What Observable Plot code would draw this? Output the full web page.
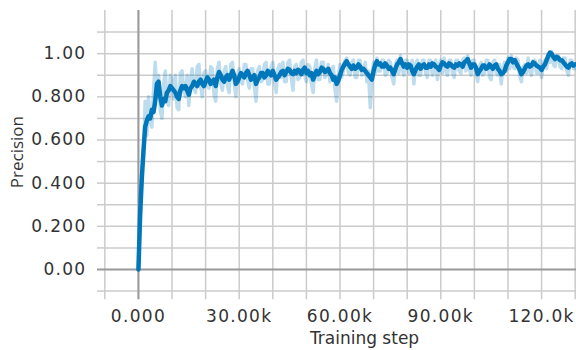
<!DOCTYPE html>
<html>
<head>
<meta charset="utf-8">
<script src="https://cdn.jsdelivr.net/npm/d3@7"></script>
<script src="https://cdn.jsdelivr.net/npm/@observablehq/plot@0.6"></script>
<style>
  html, body { margin: 0; padding: 0; background: #fff; }
  g[aria-label="y-axis tick label"] text,
  g[aria-label="x-axis tick label"] text { letter-spacing: 1.3px; }
</style>
</head>
<body>
<div id="chart"></div>
<script>
// Training steps (x): one logged point every 500 steps, 0 … 130k
const steps = d3.range(0, 130500, 500);

// Smoothed precision (dark line)
const smoothed = [
  0.00, 0.25, 0.42, 0.55, 0.66, 0.69, 0.71, 0.70, 0.74, 0.73,
  0.78, 0.86, 0.87, 0.80, 0.76, 0.79, 0.78, 0.82, 0.83, 0.85,
  0.84, 0.83, 0.82, 0.80, 0.79, 0.83, 0.85, 0.84, 0.85, 0.83,
  0.81, 0.84, 0.85, 0.87, 0.86, 0.85, 0.87, 0.88, 0.86, 0.85,
  0.87, 0.89, 0.88, 0.86, 0.87, 0.88, 0.85, 0.89, 0.915, 0.90,
  0.88, 0.87, 0.89, 0.90, 0.88, 0.90, 0.92, 0.90, 0.86, 0.87,
  0.89, 0.91, 0.90, 0.89, 0.91, 0.92, 0.90, 0.88, 0.89, 0.90,
  0.86, 0.88, 0.89, 0.91, 0.91, 0.89, 0.90, 0.92, 0.91, 0.90,
  0.92, 0.90, 0.88, 0.89, 0.90, 0.915, 0.92, 0.90, 0.915, 0.93,
  0.925, 0.91, 0.905, 0.92, 0.91, 0.925, 0.92, 0.905, 0.925, 0.935,
  0.91, 0.92, 0.90, 0.91, 0.88, 0.90, 0.92, 0.905, 0.915, 0.935,
  0.93, 0.915, 0.92, 0.93, 0.91, 0.90, 0.88, 0.89, 0.86, 0.875,
  0.90, 0.925, 0.94, 0.955, 0.965, 0.95, 0.94, 0.93, 0.945, 0.93,
  0.935, 0.95, 0.94, 0.925, 0.93, 0.92, 0.91, 0.90, 0.89, 0.88,
  0.92, 0.95, 0.965, 0.95, 0.955, 0.94, 0.94, 0.955, 0.945, 0.93,
  0.935, 0.92, 0.905, 0.93, 0.95, 0.96, 0.975, 0.955, 0.94, 0.95,
  0.935, 0.95, 0.945, 0.92, 0.905, 0.925, 0.94, 0.95, 0.93, 0.945,
  0.95, 0.935, 0.935, 0.95, 0.94, 0.955, 0.95, 0.94, 0.935, 0.925,
  0.945, 0.96, 0.955, 0.945, 0.94, 0.955, 0.95, 0.94, 0.935, 0.95,
  0.945, 0.955, 0.95, 0.94, 0.96, 0.965, 0.975, 0.955, 0.935, 0.95,
  0.95, 0.935, 0.905, 0.92, 0.93, 0.945, 0.945, 0.93, 0.935, 0.95,
  0.94, 0.93, 0.945, 0.95, 0.93, 0.92, 0.905, 0.91, 0.92, 0.945,
  0.96, 0.975, 0.975, 0.96, 0.97, 0.955, 0.94, 0.925, 0.905, 0.915,
  0.93, 0.945, 0.95, 0.94, 0.945, 0.96, 0.955, 0.945, 0.94, 0.935,
  0.925, 0.94, 0.95, 0.97, 0.99, 1.005, 1.00, 0.985, 0.975, 0.985,
  0.98, 0.97, 0.97, 0.96, 0.95, 0.94, 0.935, 0.95, 0.955, 0.945,
  0.95
];

// Raw precision (light band)
const raw = [
  0.00, 0.22, 0.45, 0.52, 0.78, 0.62, 0.80, 0.68, 0.66, 0.83,
  0.96, 0.80, 0.90, 0.74, 0.70, 0.86, 0.92, 0.78, 0.76, 0.90,
  0.88, 0.79, 0.90, 0.75, 0.74, 0.91, 0.92, 0.83, 0.80, 0.90,
  0.76, 0.88, 0.93, 0.84, 0.82, 0.94, 0.95, 0.85, 0.80, 0.91,
  0.92, 0.85, 0.84, 0.94, 0.93, 0.81, 0.78, 0.93, 0.96, 0.86,
  0.83, 0.92, 0.94, 0.85, 0.82, 0.95, 0.96, 0.87, 0.80, 0.90,
  0.93, 0.87, 0.86, 0.95, 0.95, 0.88, 0.84, 0.93, 0.93, 0.85,
  0.78, 0.92, 0.94, 0.87, 0.88, 0.95, 0.96, 0.86, 0.86, 0.94,
  0.96, 0.88, 0.82, 0.93, 0.95, 0.89, 0.96, 0.87, 0.87, 0.96,
  0.97, 0.89, 0.83, 0.94, 0.95, 0.88, 0.89, 0.96, 0.97, 0.90,
  0.87, 0.95, 0.94, 0.86, 0.82, 0.93, 0.97, 0.88, 0.88, 0.96,
  0.96, 0.89, 0.90, 0.95, 0.87, 0.93, 0.94, 0.84, 0.78, 0.90,
  0.95, 0.89, 0.92, 0.97, 0.98, 0.91, 0.90, 0.96, 0.97, 0.89,
  0.89, 0.97, 0.97, 0.90, 0.91, 0.96, 0.87, 0.92, 0.75, 0.90,
  0.96, 0.91, 0.98, 0.92, 0.92, 0.97, 0.97, 0.90, 0.91, 0.97,
  0.96, 0.89, 0.86, 0.95, 0.97, 0.91, 0.99, 0.93, 0.90, 0.97,
  0.97, 0.91, 0.91, 0.97, 0.86, 0.95, 0.97, 0.90, 0.90, 0.97,
  0.97, 0.91, 0.89, 0.97, 0.97, 0.90, 0.92, 0.97, 0.88, 0.95,
  0.97, 0.91, 0.98, 0.92, 0.90, 0.97, 0.97, 0.91, 0.89, 0.97,
  0.97, 0.92, 0.91, 0.97, 0.98, 0.92, 0.99, 0.93, 0.90, 0.97,
  0.97, 0.91, 0.87, 0.94, 0.96, 0.90, 0.91, 0.97, 0.97, 0.89,
  0.88, 0.96, 0.97, 0.91, 0.90, 0.95, 0.86, 0.93, 0.96, 0.92,
  0.98, 0.93, 0.99, 0.94, 0.93, 0.98, 0.97, 0.90, 0.87, 0.94,
  0.95, 0.91, 0.98, 0.92, 0.90, 0.97, 0.97, 0.91, 0.91, 0.97,
  0.89, 0.95, 0.97, 0.93, 1.00, 0.96, 1.01, 0.95, 0.94, 0.99,
  0.99, 0.94, 0.93, 0.98, 0.98, 0.92, 0.90, 0.97, 0.97, 0.93,
  0.93
];

// Axis ticks and labels
const xGrid = [-10000, 0, 10000, 20000, 30000, 40000, 50000, 60000, 70000, 80000, 90000, 100000, 110000, 120000, 130000];
const xTicks = [0, 30000, 60000, 90000, 120000];
const xTickLabels = ["0.000", "30.00k", "60.00k", "90.00k", "120.0k"];
const yGrid = [-0.1, 0.1, 0.2, 0.3, 0.4, 0.5, 0.6, 0.7, 0.8, 0.9, 1.0, 1.1];
const yTicks = [0, 0.2, 0.4, 0.6, 0.8, 1.0];
const yTickLabels = ["0.00", "0.200", "0.400", "0.600", "0.800", "1.00"];
const xTitle = "Training step";
const yTitle = "Precision";

const n = Math.min(steps.length, smoothed.length, raw.length);
const data = d3.range(n).map(i => ({step: steps[i], smoothed: smoothed[i], raw: raw[i]}));
const xLabelMap = new Map(xTicks.map((t, i) => [t, xTickLabels[i]]));
const yLabelMap = new Map(yTicks.map((t, i) => [t, yTickLabels[i]]));

const gridColor = "#cbcbcb";
const zeroColor = "#9a9a9a";
const textColor = "#333333";
const lineColor = "#0077bb";

const chart = Plot.plot({
  width: 576,
  height: 350,
  marginLeft: 104,
  marginRight: 0,
  marginTop: 10,
  marginBottom: 50.8,
  style: {fontFamily: "DejaVu Sans", fontSize: "17px", color: textColor, background: "#fff"},
  x: {domain: [-10100, 130400]},
  y: {domain: [-0.14, 1.2]},
  marks: [
    Plot.gridX(xGrid, {stroke: gridColor, strokeOpacity: 1, strokeWidth: 1.5}),
    Plot.gridY(yGrid, {stroke: gridColor, strokeOpacity: 1, strokeWidth: 1.5}),
    Plot.axisY(yGrid, {tickSize: 7, tickFormat: () => "", stroke: gridColor, strokeWidth: 1.5, label: null}),
    Plot.ruleX([0], {stroke: zeroColor, strokeWidth: 2}),
    Plot.ruleY([0], {stroke: zeroColor, strokeWidth: 2}),
    Plot.axisY([0], {tickSize: 7, tickFormat: () => "", stroke: zeroColor, strokeWidth: 2, label: null}),
    Plot.axisY(yTicks, {tickSize: 0, tickPadding: 18, tickFormat: d => yLabelMap.get(d), fill: textColor, fontSize: 17, label: null}),
    Plot.axisX(xTicks, {tickSize: 0, tickPadding: 10, tickFormat: d => xLabelMap.get(d), fill: textColor, fontSize: 17, label: null}),
    Plot.line(data, {x: "step", y: "raw", stroke: lineColor, strokeOpacity: 0.26, strokeWidth: 3.5, curve: "linear"}),
    Plot.line(data, {x: "step", y: "smoothed", stroke: lineColor, strokeWidth: 4.5, curve: "linear", strokeLinejoin: "round"}),
    Plot.text([xTitle], {frameAnchor: "bottom", dx: 24, dy: 39, lineAnchor: "middle", textAnchor: "middle", fill: textColor, fontSize: 17, fontFamily: "DejaVu Sans"}),
    Plot.text([yTitle], {frameAnchor: "left", rotate: -90, dx: -87, dy: -3, lineAnchor: "middle", textAnchor: "middle", fill: textColor, fontSize: 17, fontFamily: "Open Sans"})
  ]
});
document.getElementById("chart").appendChild(chart);
</script>
</body>
</html>
